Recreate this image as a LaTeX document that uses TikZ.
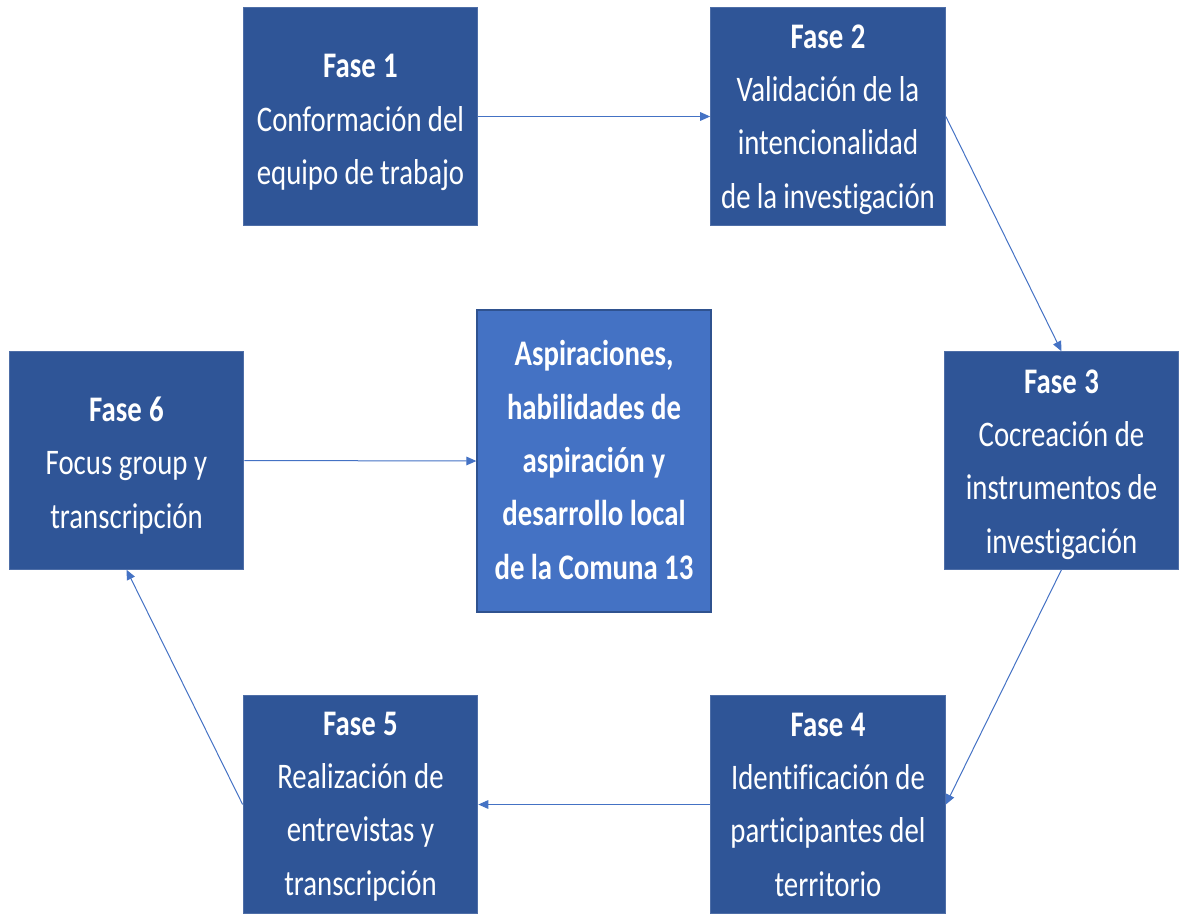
\documentclass[tikz,border=0pt]{standalone}
\usepackage{fontspec}
\setmainfont{Carlito}[FakeStretch=0.8, Ligatures=CommonOff]
\usetikzlibrary{arrows.meta}
\definecolor{boxblue}{HTML}{2F5597}
\definecolor{midblue}{HTML}{4472C4}
\definecolor{edgeblue}{HTML}{2F528F}
\newcommand{\tightspaces}{\spaceskip=4.5pt plus 1pt minus 1pt\relax}
\tikzset{
  fasebox/.style={fill=boxblue, draw=boxblue!85!white, line width=0.75pt,
    minimum width=176pt, minimum height=163pt, inner sep=0pt},
  centerbox/.style={fill=midblue, draw=edgeblue, line width=1pt,
    minimum width=175.5pt, minimum height=226.5pt, inner sep=0pt},
  fasetext/.style={text width=176pt, align=center, text=white, inner sep=0pt,
    font=\fontsize{27pt}{40pt}\selectfont, execute at begin node={\tightspaces}},
  centertext/.style={fasetext, font=\fontsize{27pt}{40pt}\selectfont\bfseries},
  link/.style={draw=midblue, line width=0.75pt, -{Triangle[length=7.5pt,width=6.5pt]}}
}
\begin{document}
\begin{tikzpicture}[x=0.75pt,y=-0.75pt]
\useasboundingbox (0,0) rectangle (1179,914);
\node[fasebox] (f1) at (360.5,116.5) {};
\node[fasebox] (f2) at (828,116.5) {};
\node[fasebox] (f3) at (1061.5,460.5) {};
\node[fasebox] (f4) at (828,804.5) {};
\node[fasebox] (f5) at (360.5,804.5) {};
\node[fasebox] (f6) at (126.5,460.5) {};
\node[centerbox] (c) at (594,461) {};
\node[fasetext] (t1) at ([yshift=-4.5pt]f1.center) {\textbf{Fase 1}\\Conformación del\\equipo de trabajo};
\node[fasetext] (t2) at ([yshift=-2.25pt]f2.center) {\textbf{Fase 2}\\Validación de la\\intencionalidad\\de la investigación};
\node[fasetext] (t3) at ([yshift=-3pt]f3.center) {\textbf{Fase 3}\\Cocreación de\\instrumentos de\\investigación};
\node[fasetext] (t4) at ([yshift=0pt]f4.center) {\textbf{Fase 4}\\Identificación de\\participantes del\\territorio};
\node[fasetext] (t5) at ([yshift=-1.5pt]f5.center) {\textbf{Fase 5}\\Realización de\\entrevistas y\\transcripción};
\node[fasetext] (t6) at ([yshift=-3.75pt]f6.center) {\textbf{Fase 6}\\Focus group y\\transcripción};
\node[centertext] (tc) at ([yshift=0.75pt]c.center) {Aspiraciones,\\habilidades de\\aspiración y\\desarrollo local\\de la Comuna 13};
\draw[link] (f1.east) -- (f2.west);
\draw[link] (f2.east) -- (f3.north);
\draw[link] (f3.south) -- (f4.east);
\draw[link] (f4.west) -- (f5.east);
\draw[link] (f5.west) -- (f6.south);
\draw[link] (f6.east) -- (c.west);
\end{tikzpicture}
\end{document}
